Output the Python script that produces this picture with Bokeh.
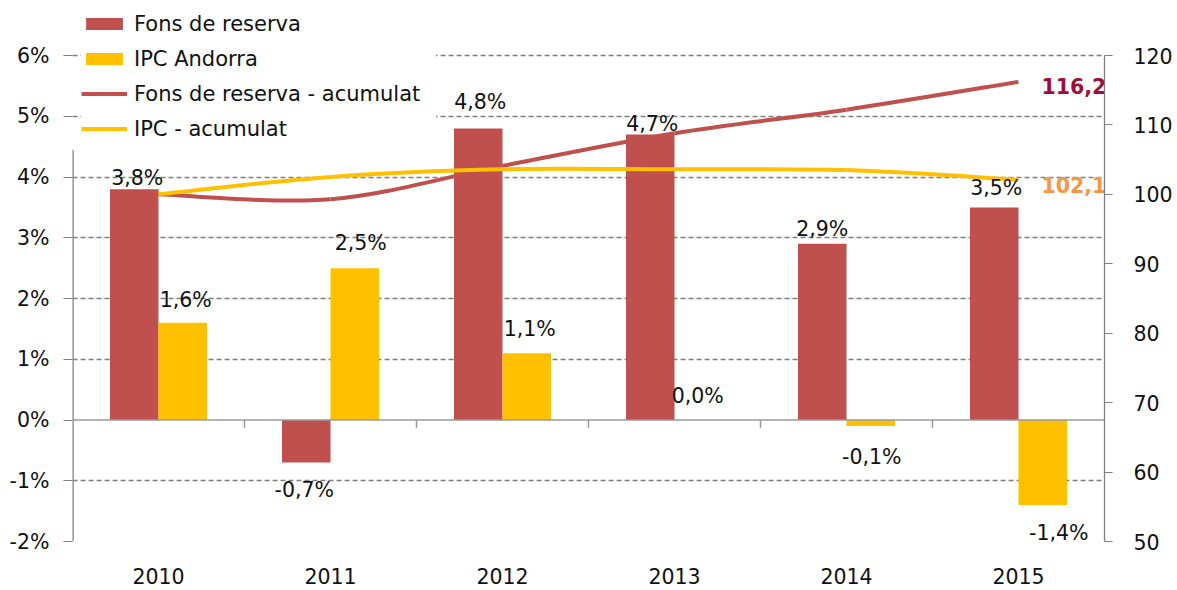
from bokeh.plotting import figure
from bokeh.models import (Range1d, LinearAxis, FixedTicker, Span, Legend,
                          LegendItem, ColumnDataSource)
from bokeh.core.properties import value
from bokeh.embed import file_html
from bokeh.resources import INLINE

# ---------------- data ----------------
years = ["2010", "2011", "2012", "2013", "2014", "2015"]
fons = [3.8, -0.7, 4.8, 4.7, 2.9, 3.5]          # Fons de reserva (%)
ipc = [1.6, 2.5, 1.1, 0.0, -0.1, -1.4]          # IPC Andorra (%)
fons_acum = [100.0, 99.3, 104.1, 108.8, 112.2, 116.2]
ipc_acum = [100.0, 102.5, 103.6, 103.6, 103.5, 102.1]
left_ticks = [-2, -1, 0, 1, 2, 3, 4, 5, 6]
right_ticks = [50, 60, 70, 80, 90, 100, 110, 120]
end_fons_label = "116,2"
end_ipc_label = "102,1"

# ---------------- style ----------------
RED = "#C0504D"
GOLD = "#FFC000"
GRID = "#808080"
FONT = "DejaVu Sans"
FS = "20.5px"
FS_LEG = "21px"
TXT = "#111111"
BAR_W = 0.282
# per-label pixel nudges (label centre distance from bar end, x shift)
fons_dy = [11, 27, 26, 10, 15, 19]
fons_dx = [3, -2, 2, 2, 0, 2]
ipc_dy = [23, 25, 24, 24, 31, 28]
ipc_dx = [3, 6, 3, -1, 1, 16]

# layout (pixels)
PLOT_PX = 486          # height of the -2%..6% band
EXTRA_TOP_PX = 55      # room above the 6% line for the legend
MB_LEFT, MB_TOP, MB_RIGHT, MB_BOTTOM = 72, 0, 68, 46
FRAME_W = 1035
W = MB_LEFT + FRAME_W + MB_RIGHT
H = MB_TOP + PLOT_PX + EXTRA_TOP_PX + MB_BOTTOM

lo_l, hi_l = left_ticks[0], left_ticks[-1]
lo_r, hi_r = right_ticks[0], right_ticks[-1]
top_l = hi_l + (hi_l - lo_l) * EXTRA_TOP_PX / PLOT_PX
top_r = hi_r + (hi_r - lo_r) * EXTRA_TOP_PX / PLOT_PX

n = len(years)
centers = [i + 0.5 for i in range(n)]
x_fons = [c - BAR_W / 2 for c in centers]
x_ipc = [c + BAR_W / 2 for c in centers]

p = figure(width=W, height=H, x_range=Range1d(0, n), y_range=Range1d(lo_l, top_l),
           output_backend="svg", toolbar_location=None,
           min_border_left=MB_LEFT, min_border_top=MB_TOP, min_border_right=MB_RIGHT,
           min_border_bottom=MB_BOTTOM)
p.outline_line_color = None
p.background_fill_color = "white"
p.border_fill_color = "white"
p.extra_y_ranges = {"acum": Range1d(lo_r, top_r)}

# grid
p.xgrid.grid_line_color = None
p.ygrid.ticker = FixedTicker(ticks=[t for t in left_ticks if t != 0])
p.ygrid.grid_line_color = GRID
p.ygrid.grid_line_dash = "5 3"
p.ygrid.grid_line_width = 1.3

# bars
r_fons = p.vbar(x=x_fons, top=fons, bottom=0, width=BAR_W, fill_color=RED, line_color=None)
r_ipc = p.vbar(x=x_ipc, top=ipc, bottom=0, width=BAR_W, fill_color=GOLD, line_color=None)

# zero line and category tick marks
p.add_layout(Span(location=0, dimension="width", line_color="#9A9A9A", line_width=1.5))
bounds = list(range(1, n))
p.segment(x0=bounds, y0=[0] * len(bounds), x1=bounds, y1=[-0.13] * len(bounds),
          line_color="#9A9A9A", line_width=1.5)
# visible part of the left axis line (the legend box hides its top)
p.segment(x0=[0], y0=[lo_l], x1=[0], y1=[4.45], line_color=GRID, line_width=2.5)


# smooth cumulative lines (bezier through the data points)
def smooth(xs, ys):
    P = list(zip(xs, ys))
    x0, y0, x1, y1, cx0, cy0, cx1, cy1 = [], [], [], [], [], [], [], []
    for i in range(len(P) - 1):
        pm = P[i - 1] if i > 0 else P[i]
        p0 = P[i]
        p1 = P[i + 1]
        p2 = P[i + 2] if i + 2 < len(P) else P[i + 1]
        x0.append(p0[0]); y0.append(p0[1]); x1.append(p1[0]); y1.append(p1[1])
        cx0.append(p0[0] + (p1[0] - pm[0]) / 6); cy0.append(p0[1] + (p1[1] - pm[1]) / 6)
        cx1.append(p1[0] - (p2[0] - p0[0]) / 6); cy1.append(p1[1] - (p2[1] - p0[1]) / 6)
    return dict(x0=x0, y0=y0, x1=x1, y1=y1, cx0=cx0, cy0=cy0, cx1=cx1, cy1=cy1)


p.bezier(source=ColumnDataSource(smooth(centers, fons_acum)), x0="x0", y0="y0",
         x1="x1", y1="y1", cx0="cx0", cy0="cy0", cx1="cx1", cy1="cy1",
         line_color=RED, line_width=4, y_range_name="acum")
p.bezier(source=ColumnDataSource(smooth(centers, ipc_acum)), x0="x0", y0="y0",
         x1="x1", y1="y1", cx0="cx0", cy0="cy0", cx1="cx1", cy1="cy1",
         line_color=GOLD, line_width=4, y_range_name="acum")
# line renderers used for the legend swatches
l_fa = p.line(x=[centers[0]], y=[fons_acum[0]], line_color=RED, line_width=4,
              y_range_name="acum")
l_ia = p.line(x=[centers[0]], y=[ipc_acum[0]], line_color=GOLD, line_width=4,
              y_range_name="acum")


def fmt(v):
    return ("%.1f" % v).replace(".", ",") + "%"


# bar labels
p.text(x=x_fons, y=fons, text=[fmt(v) for v in fons],
       x_offset=fons_dx, y_offset=[-d if v >= 0 else d for d, v in zip(fons_dy, fons)],
       text_align="center", text_baseline="middle", text_font=value(FONT),
       text_font_size=FS, text_color=TXT)
p.text(x=x_ipc, y=ipc, text=[fmt(v) for v in ipc],
       x_offset=ipc_dx, y_offset=[-d if v >= 0 else d for d, v in zip(ipc_dy, ipc)],
       text_align="center", text_baseline="middle", text_font=value(FONT),
       text_font_size=FS, text_color=TXT)

# end labels of the cumulative lines
p.text(x=[centers[-1]], y=[fons_acum[-1]], text=[end_fons_label], x_offset=23, y_offset=4,
       text_align="left", text_baseline="middle", text_font=value(FONT),
       text_font_size=FS, text_font_style="bold", text_color="#9C0F3C",
       y_range_name="acum")
p.text(x=[centers[-1]], y=[ipc_acum[-1]], text=[end_ipc_label], x_offset=23, y_offset=5,
       text_align="left", text_baseline="middle", text_font=value(FONT),
       text_font_size=FS, text_font_style="bold", text_color="#F79646",
       y_range_name="acum")

# axes
xa = p.xaxis[0]
xa.ticker = FixedTicker(ticks=centers)
xa.major_label_overrides = {c: y for c, y in zip(centers, years)}
xa.axis_line_color = None
xa.major_tick_line_color = None
xa.minor_tick_line_color = None
xa.major_label_standoff = 20
xa.major_label_text_font = FONT
xa.major_label_text_font_size = FS
xa.major_label_text_color = TXT

ya = p.yaxis[0]
ya.ticker = FixedTicker(ticks=left_ticks)
ya.bounds = (lo_l, hi_l)
ya.major_label_overrides = {t: "%d%%" % t for t in left_ticks}
ya.axis_line_color = None
ya.major_tick_line_color = GRID
ya.major_tick_out = 9
ya.major_tick_in = 0
ya.minor_tick_line_color = None
ya.major_label_standoff = 14
ya.major_label_text_font = FONT
ya.major_label_text_font_size = FS
ya.major_label_text_color = TXT

ra = LinearAxis(y_range_name="acum", ticker=FixedTicker(ticks=right_ticks),
                bounds=(lo_r, hi_r))
ra.axis_line_color = GRID
ra.axis_line_width = 1.3
ra.major_tick_line_color = GRID
ra.major_tick_out = 8
ra.major_tick_in = 0
ra.minor_tick_line_color = None
ra.major_label_standoff = 21
ra.major_label_text_font = FONT
ra.major_label_text_font_size = FS
ra.major_label_text_color = TXT
p.add_layout(ra, "right")

legend = Legend(items=[
    LegendItem(label="Fons de reserva", renderers=[r_fons]),
    LegendItem(label="IPC Andorra", renderers=[r_ipc]),
    LegendItem(label="Fons de reserva - acumulat", renderers=[l_fa]),
    LegendItem(label="IPC - acumulat", renderers=[l_ia]),
], location=(9, 400), glyph_width=46, glyph_height=15, label_standoff=7,
    spacing=10, padding=5, label_height=25, label_width=302, margin=0,
    label_text_font=FONT, label_text_font_size=FS_LEG, label_text_color=TXT,
    border_line_color=None, background_fill_color="white", background_fill_alpha=1.0)
p.add_layout(legend, "center")

open("out.html", "w").write(file_html(p, INLINE))
